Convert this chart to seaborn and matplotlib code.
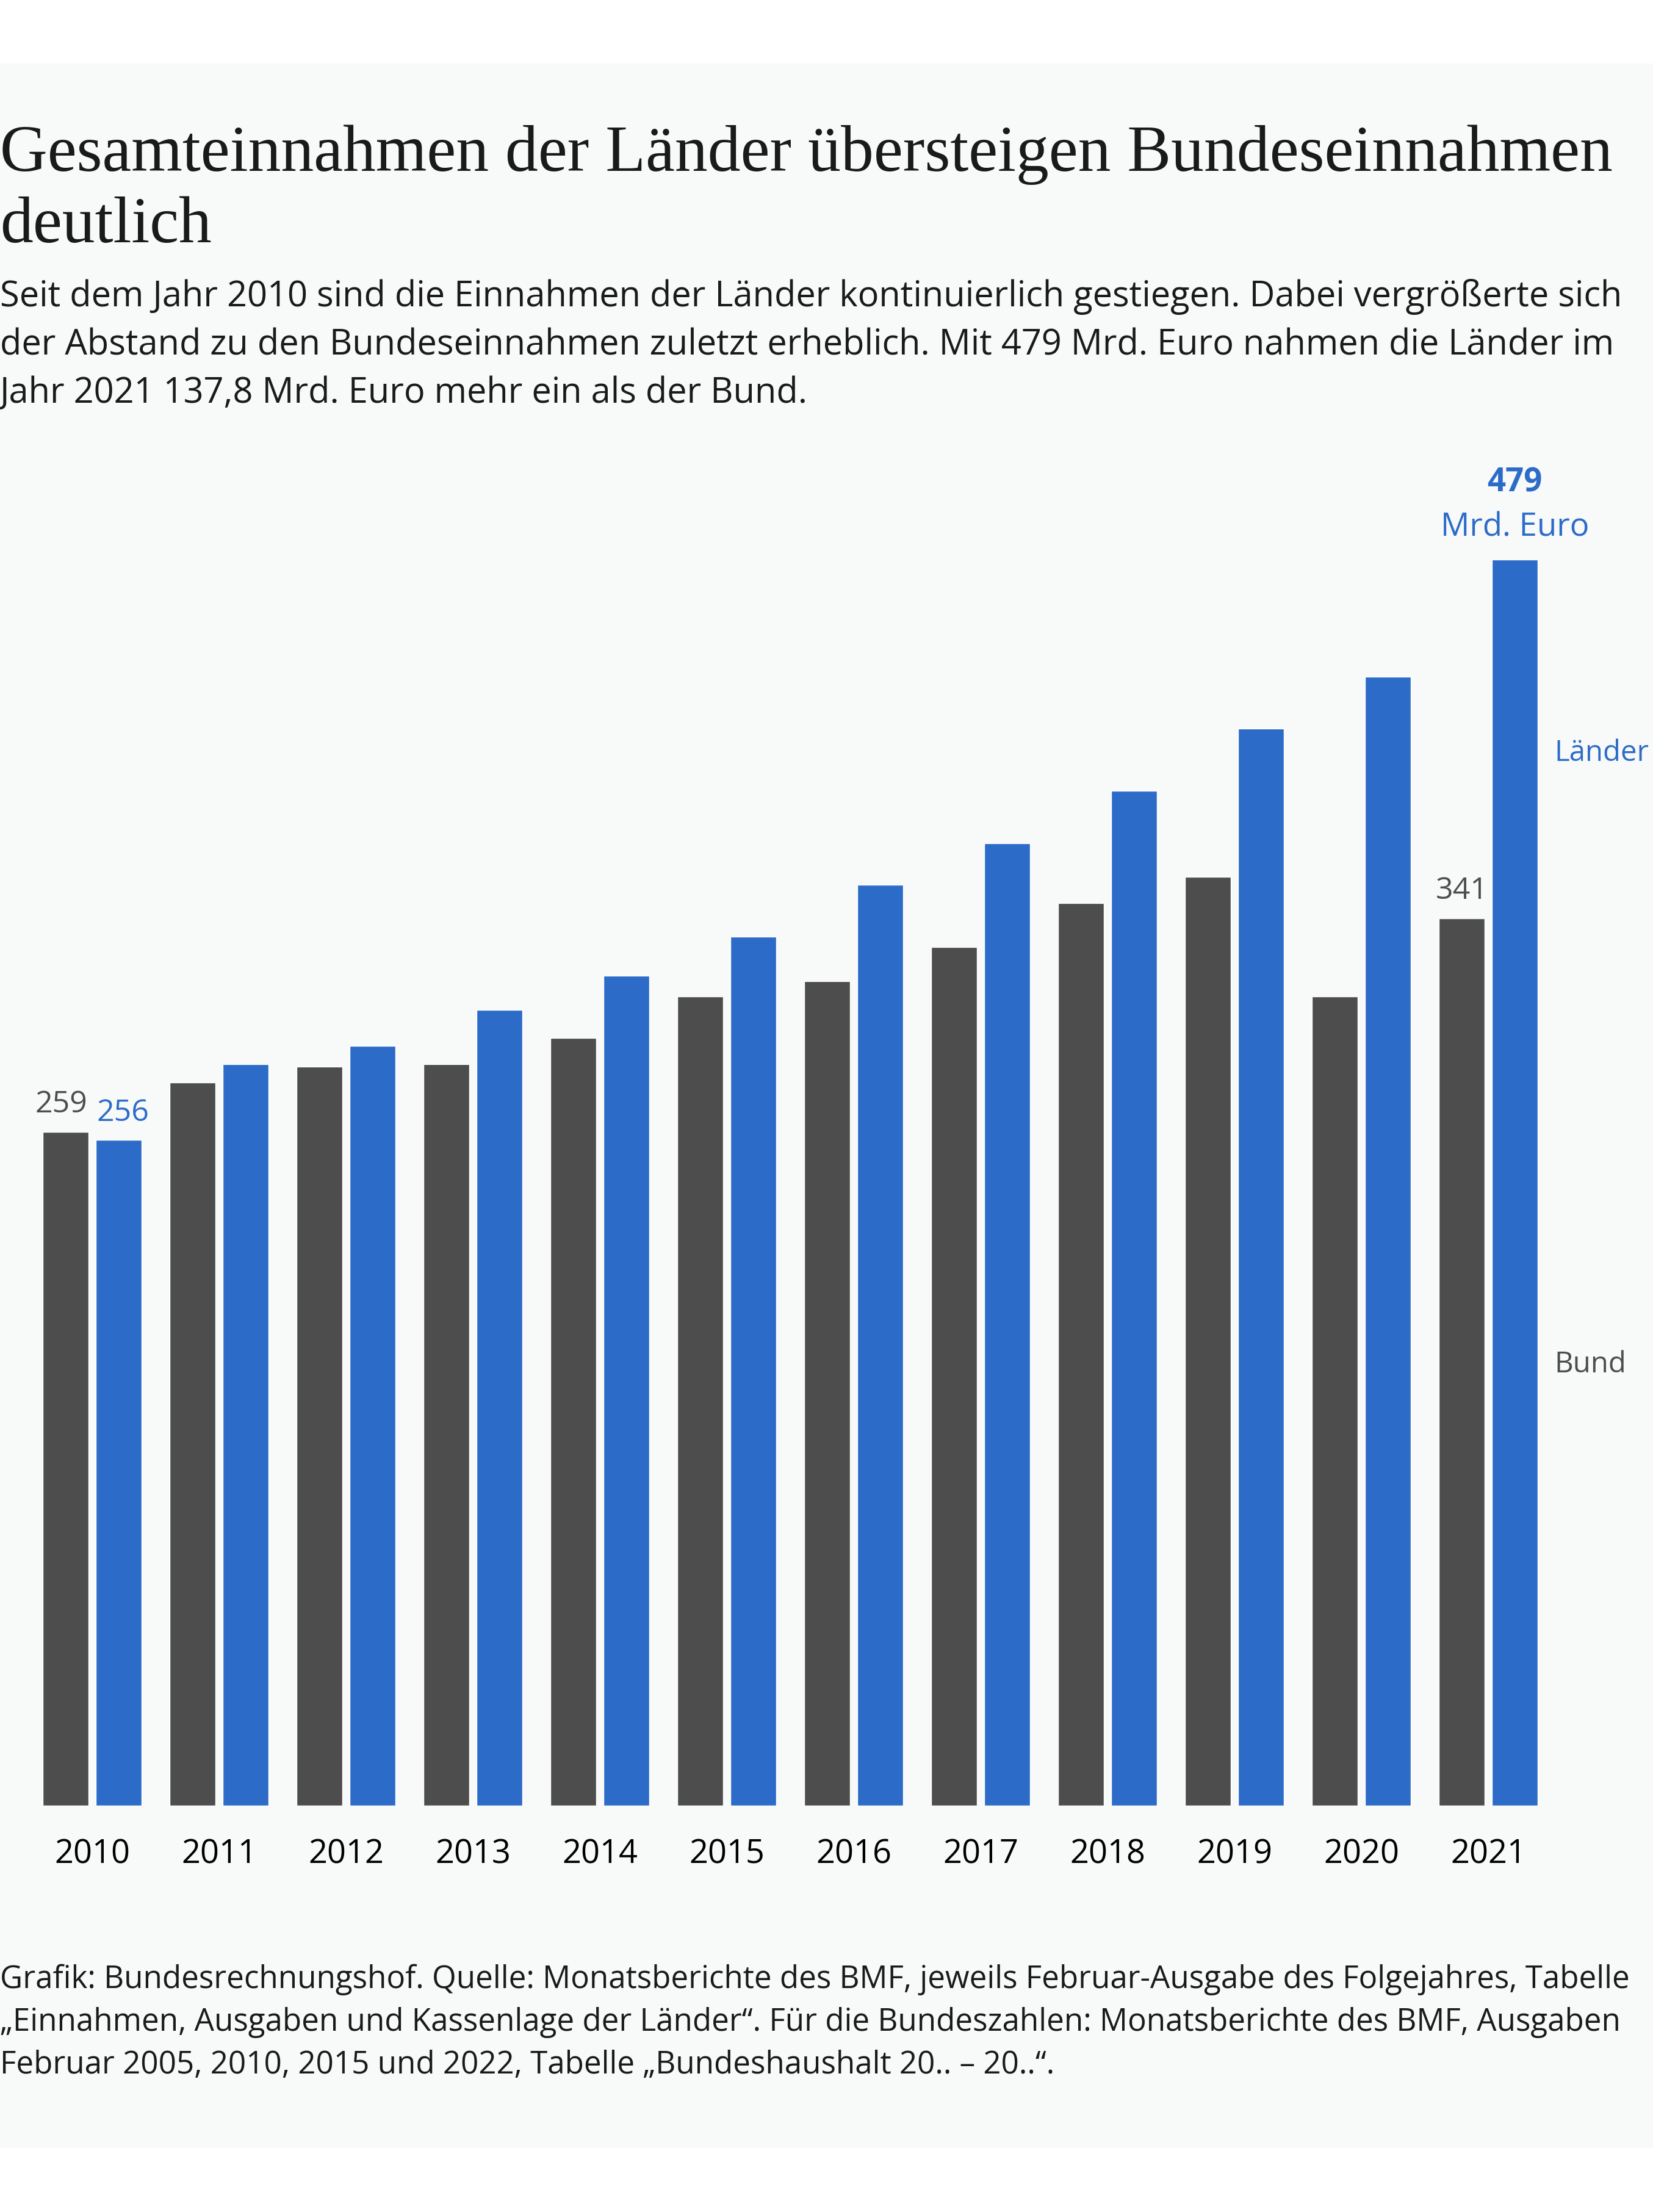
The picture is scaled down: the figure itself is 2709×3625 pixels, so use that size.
import numpy as np
import pandas as pd
import seaborn as sns
import matplotlib
matplotlib.use("Agg")
import matplotlib.pyplot as plt
from matplotlib.patches import Rectangle

# ---------------- data ----------------
jahre = ["2010", "2011", "2012", "2013", "2014", "2015",
         "2016", "2017", "2018", "2019", "2020", "2021"]
bund = [259, 278, 284, 285, 295, 311, 317, 330, 347, 357, 311, 341]
laender = [256, 285, 292, 306, 319, 334, 354, 370, 390, 414, 434, 479]
reihen = ["Bund", "Länder"]

title_lines = ["Gesamteinnahmen der Länder übersteigen Bundeseinnahmen",
               "deutlich"]
subtitle_lines = [
    "Seit dem Jahr 2010 sind die Einnahmen der Länder kontinuierlich gestiegen. Dabei vergrößerte sich",
    "der Abstand zu den Bundeseinnahmen zuletzt erheblich. Mit 479 Mrd. Euro nahmen die Länder im",
    "Jahr 2021 137,8 Mrd. Euro mehr ein als der Bund.",
]
footer_lines = [
    "Grafik: Bundesrechnungshof. Quelle: Monatsberichte des BMF, jeweils Februar-Ausgabe des Folgejahres, Tabelle",
    "„Einnahmen, Ausgaben und Kassenlage der Länder“. Für die Bundeszahlen: Monatsberichte des BMF, Ausgaben",
    "Februar 2005, 2010, 2015 und 2022, Tabelle „Bundeshaushalt 20.. – 20..“.",
]

df = pd.DataFrame({
    "Jahr": jahre * 2,
    "Wert": bund + laender,
    "Reihe": [reihen[0]] * len(jahre) + [reihen[1]] * len(jahre),
})

# ---------------- style ----------------
GRAY = "#4d4d4d"
BLUE = "#2c6cc8"
TEXT = "#1a1a1a"
PANEL = "#f8f9f9"

sns.set_theme(style="white")
plt.rcParams["font.family"] = ["Open Sans", "DejaVu Sans"]

W, H = 2709, 3625
DPI = 100
fig = plt.figure(figsize=(W / DPI, H / DPI), dpi=DPI)
fig.patch.set_facecolor("white")
fig.patches.append(Rectangle((0, 1 - 3520 / H), 1, (3520 - 104) / H,
                             transform=fig.transFigure, facecolor=PANEL,
                             edgecolor="none", zorder=-10))

# axes: x from -0.5..11.5 spans px 47..2543, y 0..500 with baseline at 2959
ax = fig.add_axes([47 / W, (H - 2959) / H, 2496 / W, 2131.5 / H])
ax.set_facecolor("none")

sns.barplot(data=df, x="Jahr", y="Wert", hue="Reihe", hue_order=reihen,
            palette={"Bund": GRAY, "Länder": BLUE}, saturation=1,
            width=0.835, gap=0.13, errorbar=None, legend=False, ax=ax)

ax.set_xlim(-0.5, 11.5)
ax.set_ylim(0, 500)
for s in ax.spines.values():
    s.set_visible(False)
ax.set_yticks([])
ax.set_xlabel("")
ax.set_ylabel("")
ax.tick_params(axis="x", length=0, pad=38, labelsize=39, labelcolor="#000000")
for lab in ax.get_xticklabels():
    lab.set_fontfamily(["Open Sans", "DejaVu Sans"])

# value labels
cont_b, cont_l = ax.containers[0], ax.containers[1]

def bar_label(bar, text, dx_pt, dy_pt, color, weight="normal", size=38):
    x = bar.get_x() + bar.get_width() / 2
    y = bar.get_height()
    ax.annotate(text, xy=(x, y), xytext=(dx_pt, dy_pt), textcoords="offset points",
                ha="center", va="baseline", fontsize=size, color=color,
                fontweight=weight, annotation_clip=False)

bar_label(cont_b[0], str(bund[0]), -5, 23, GRAY, size=36)
bar_label(cont_l[0], str(laender[0]), 5, 22, BLUE, size=36)
bar_label(cont_b[-1], str(bund[-1]), 0, 23, GRAY, size=36)
bar_label(cont_l[-1], "Mrd. Euro", 0, 27.4, BLUE)
bar_label(cont_l[-1], str(laender[-1]), 0, 80.6, BLUE, weight="bold")

# series labels on the right
renderer = fig.canvas.get_renderer()
t_l = ax.text(11.52, 401.5, "Länder", color=BLUE, fontsize=39, ha="left",
              va="baseline", clip_on=False)
bb = t_l.get_window_extent(renderer)
side_size = 39 * (2702 - bb.x0) / bb.width
t_l.set_fontsize(side_size)
ax.text(11.52, 166.5, "Bund", color=GRAY, fontsize=side_size, ha="left",
        va="baseline", clip_on=False)

# ---------------- header / footer text ----------------
def fit_block(lines, baselines, family, target_w, first_size, color, **kw):
    t0 = fig.text(0, 1 - baselines[0] / H, lines[0], fontsize=first_size,
                  family=family, color=color, ha="left", va="baseline", **kw)
    bb = t0.get_window_extent(renderer)
    size = first_size * target_w / bb.width
    t0.set_fontsize(size)
    for line, b in zip(lines[1:], baselines[1:]):
        fig.text(0, 1 - b / H, line, fontsize=size, family=family,
                 color=color, ha="left", va="baseline", **kw)

fit_block(title_lines, [280, 397], ["Liberation Serif", "DejaVu Serif"],
          2643, 72, TEXT)
fit_block(subtitle_lines, [502, 581, 660], ["Open Sans", "DejaVu Sans"],
          2660, 44, TEXT)
fit_block(footer_lines, [3258, 3328, 3398], ["Open Sans", "DejaVu Sans"],
          2666, 40, TEXT)

fig.savefig("out.png", dpi=DPI, facecolor="white")
